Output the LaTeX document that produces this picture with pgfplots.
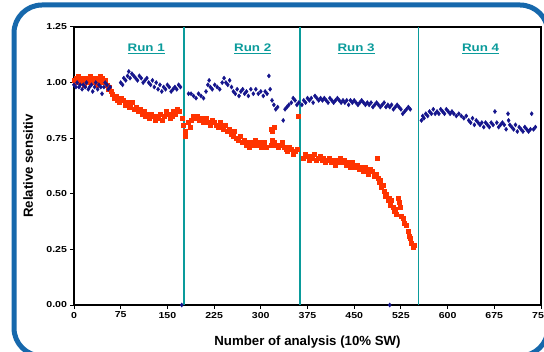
\documentclass[border=0pt]{standalone}
\usepackage{fontspec}
\setmainfont{Liberation Sans}
\newfontfamily\tickfont{Liberation Sans}[FakeStretch=1.22]
\usepackage{pgfplots}
\pgfplotsset{compat=1.18}
\definecolor{frameblue}{RGB}{22,104,172}
\definecolor{runteal}{RGB}{10,155,155}
\definecolor{dotblue}{RGB}{20,20,140}
\definecolor{dotred}{RGB}{255,51,0}
\newcommand\runlab[1]{\setbox0\hbox{#1}\rlap{\rule[-2.6pt]{\wd0}{1.2pt}}\box0}
\begin{document}
\begin{tikzpicture}
\useasboundingbox (0,0) rectangle (544bp,352bp);
\fill[white] (0,0) rectangle (544bp,352bp);
\draw[line width=5bp, color=frameblue, rounded corners=28bp] (14bp,-4bp) rectangle (548bp,347bp);
\begin{axis}[
  at={(74bp,47bp)}, anchor=south west,
  width=467bp, height=278bp, scale only axis,
  xmin=0, xmax=750, ymin=0, ymax=1.25,
  xtick={0,75,...,750}, ytick={0,0.25,...,1.25},
  xtick pos=bottom, ytick pos=left, tick align=outside,
  major tick length=3.5bp,
  axis line style={line width=1.2bp},
  tick style={black, line width=1bp},
  scaled ticks=false,
  clip=false,
  ticklabel style={font=\tickfont\bfseries\fontsize{8.7}{10}\selectfont},
  /pgf/number format/assume math mode=true,
  yticklabel style={/pgf/number format/.cd, fixed, fixed zerofill, precision=2},
  xticklabel style={/pgf/number format/.cd, fixed, precision=0},
  xlabel={Number of analysis (10\% SW)},
  ylabel={Relative sensitiv},
  label style={font=\bfseries\fontsize{13.3}{16}\selectfont},
  xlabel style={at={(axis description cs:0.5,-0.1439)}, anchor=base},
  ylabel style={at={(axis description cs:-0.0878,0.5)}, anchor=base},
]
\addplot[runteal, line width=1.5bp] coordinates {(177,0) (177,1.25)};
\addplot[runteal, line width=1.5bp] coordinates {(363,0) (363,1.25)};
\addplot[runteal, line width=1.5bp] coordinates {(553,0) (553,1.25)};
% red series
\addplot[only marks, mark=square*, mark size=2bp, color=dotred] table {
x y
0 1.01
2 1.00
4 1.02
6 1.03
8 1.01
10 1.00
12 1.02
14 1.01
16 0.99
18 1.01
20 1.02
22 1.00
24 1.01
26 1.03
28 1.01
30 1.00
32 1.02
34 1.01
36 0.99
38 1.02
40 1.00
42 1.03
44 1.01
46 1.02
48 1.00
50 1.01
53 0.99
55 0.97
57 0.98
59 0.96
61 0.95
64 0.93
67 0.94
70 0.92
73 0.91
76 0.93
79 0.92
82 0.90
85 0.91
88 0.89
91 0.90
94 0.91
97 0.88
100 0.89
103 0.87
106 0.88
109 0.86
112 0.87
115 0.85
118 0.86
121 0.84
124 0.86
127 0.85
130 0.83
133 0.85
136 0.84
139 0.86
142 0.83
145 0.85
148 0.87
151 0.86
154 0.84
157 0.85
160 0.87
163 0.86
166 0.88
169 0.87
174 0.84
176 0.81
178 0.78
179 0.76
183 0.82
186 0.80
189 0.83
192 0.85
195 0.84
198 0.85
201 0.83
204 0.84
207 0.82
210 0.83
213 0.84
216 0.82
219 0.81
222 0.83
225 0.82
228 0.81
231 0.80
234 0.82
237 0.80
240 0.79
243 0.81
246 0.78
249 0.79
252 0.77
255 0.76
258 0.78
261 0.75
264 0.74
267 0.76
270 0.73
273 0.74
276 0.72
279 0.73
282 0.71
285 0.73
288 0.72
291 0.74
294 0.72
297 0.73
300 0.71
303 0.72
306 0.73
309 0.71
316 0.79
319 0.78
321 0.80
316 0.72
319 0.74
322 0.73
325 0.72
328 0.71
331 0.72
334 0.73
337 0.71
340 0.70
343 0.69
346 0.71
349 0.70
352 0.68
355 0.69
358 0.70
360 0.85
368 0.66
371 0.68
374 0.67
377 0.65
380 0.67
383 0.66
386 0.68
389 0.65
392 0.66
395 0.67
398 0.65
401 0.66
404 0.64
407 0.65
410 0.66
413 0.64
416 0.65
419 0.63
422 0.65
425 0.64
428 0.66
431 0.64
434 0.65
437 0.63
440 0.64
443 0.62
446 0.64
449 0.63
452 0.62
455 0.63
458 0.61
461 0.62
464 0.60
467 0.62
470 0.61
473 0.59
476 0.61
479 0.60
482 0.58
485 0.59
487 0.66
488 0.57
490 0.55
492 0.56
494 0.53
496 0.54
498 0.51
500 0.49
502 0.50
504 0.47
506 0.48
508 0.45
510 0.47
512 0.44
514 0.42
516 0.43
518 0.41
520 0.48
522 0.46
524 0.44
526 0.40
528 0.39
530 0.37
533 0.36
536 0.33
538 0.31
540 0.30
542 0.28
544 0.26
546 0.27
};
% blue series
\addplot[only marks, mark=diamond*, mark size=2.1bp, mark options={scale=1}, every mark/.append style={}, color=dotblue] table {
x y
0 0.99
3 0.98
5 1.00
8 0.98
10 0.99
13 0.97
15 0.99
18 0.98
20 1.00
23 0.97
25 0.98
28 0.99
30 0.96
33 0.98
35 1.00
38 0.97
40 0.99
43 0.98
45 0.95
48 0.98
50 1.00
53 0.99
55 0.97
58 0.98
75 1.00
78 0.99
80 1.02
83 1.01
86 1.03
88 1.05
90 1.02
93 1.04
96 1.03
99 1.02
102 1.01
105 1.03
108 1.02
111 1.00
114 1.01
117 1.02
120 1.00
123 0.99
126 1.01
129 0.98
132 1.00
135 0.97
138 0.99
141 0.96
144 0.98
147 0.97
150 0.99
153 0.98
156 0.96
159 0.97
162 0.98
165 0.97
168 0.99
171 0.98
173 0.00
184 0.95
188 0.95
192 0.94
196 0.93
200 0.95
204 0.94
208 0.93
212 0.96
215 0.99
217 1.01
219 0.98
222 0.97
226 0.99
230 0.98
234 0.97
238 1.00
241 1.02
244 1.00
247 0.99
250 1.01
253 0.98
256 0.96
259 0.95
262 0.97
265 0.94
268 0.96
271 0.97
274 0.95
277 0.96
280 0.94
284 0.97
288 0.95
292 0.97
296 0.95
300 0.96
304 0.94
307 0.96
310 0.95
313 1.03
315 0.97
318 0.92
321 0.90
324 0.88
327 0.89
336 0.83
339 0.88
342 0.89
345 0.90
349 0.91
352 0.93
355 0.92
358 0.90
361 0.91
366 0.90
369 0.92
372 0.91
375 0.93
378 0.92
381 0.93
384 0.91
387 0.94
390 0.93
393 0.92
396 0.93
399 0.92
402 0.93
405 0.92
408 0.91
411 0.93
414 0.92
417 0.91
420 0.92
423 0.93
426 0.92
429 0.91
432 0.92
435 0.91
438 0.92
441 0.90
444 0.92
447 0.91
450 0.92
453 0.91
456 0.90
459 0.91
462 0.92
465 0.91
468 0.90
471 0.91
474 0.90
477 0.91
480 0.89
483 0.90
486 0.91
489 0.90
492 0.89
495 0.90
498 0.91
501 0.89
504 0.90
507 0.89
507 0.00
510 0.90
513 0.88
516 0.89
519 0.90
522 0.89
525 0.88
528 0.86
531 0.87
534 0.88
537 0.89
540 0.88
558 0.83
560 0.85
562 0.84
565 0.86
568 0.85
571 0.87
574 0.86
577 0.88
580 0.86
583 0.87
586 0.86
589 0.88
592 0.87
595 0.86
598 0.88
601 0.87
604 0.86
607 0.87
610 0.86
614 0.85
618 0.86
622 0.85
626 0.84
630 0.85
634 0.83
637 0.82
640 0.84
643 0.81
646 0.83
649 0.82
652 0.81
655 0.82
658 0.80
661 0.82
664 0.81
667 0.80
670 0.82
673 0.81
676 0.87
679 0.82
682 0.80
685 0.81
688 0.82
691 0.81
694 0.79
697 0.86
698 0.83
700 0.81
703 0.80
706 0.79
709 0.81
712 0.78
715 0.80
718 0.79
721 0.78
724 0.80
727 0.79
730 0.78
733 0.79
735 0.86
738 0.79
741 0.80
};
\node[runteal, font=\tickfont\bfseries\fontsize{11}{13}\selectfont] at (axis cs:116,1.15) {\runlab{Run 1}};
\node[runteal, font=\tickfont\bfseries\fontsize{11}{13}\selectfont] at (axis cs:287,1.15) {\runlab{Run 2}};
\node[runteal, font=\tickfont\bfseries\fontsize{11}{13}\selectfont] at (axis cs:453,1.15) {\runlab{Run 3}};
\node[runteal, font=\tickfont\bfseries\fontsize{11}{13}\selectfont] at (axis cs:653,1.15) {\runlab{Run 4}};
\end{axis}
\end{tikzpicture}
\end{document}
